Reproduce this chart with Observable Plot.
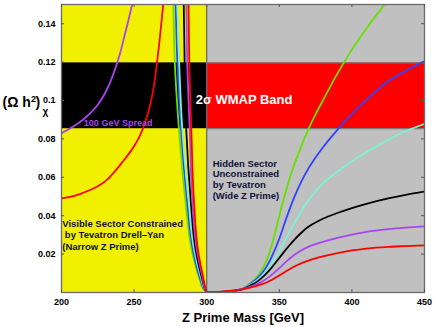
<!DOCTYPE html>
<html><head><meta charset="utf-8">
<script src="https://cdn.jsdelivr.net/npm/d3@7"></script>
<script src="https://cdn.jsdelivr.net/npm/@observablehq/plot@0.6"></script>
<style>body{margin:0;background:#fff} svg{display:block}</style>
</head><body><div id="chart"></div>
<script>
// ---- data ----
const xTicks = [200, 250, 300, 350, 400, 450];
const xTickLabels = ["200", "250", "300", "350", "400", "450"];
const yTicks = [0.02, 0.04, 0.06, 0.08, 0.1, 0.12, 0.14];
const yTickLabels = ["0.02", "0.04", "0.06", "0.08", "0.1", "0.12", "0.14"];
const massDomain = [200, 450];
const omegaDomain = [0, 0.15];
const sectorSplit = 300;
const wmapBand = [0.0853, 0.1196];

// steep branches just below the resonance (mass at given omega levels, ascending omega)
const steepOmega  = [0, 0.002, 0.006, 0.022, 0.048, 0.085, 0.12, 0.15, 0.16];
const greenSteep  = [300, 297.5, 295.5, 289.7, 285.3, 280.9, 278.0, 277.0, 276.7];
const blueSteep   = [300, 297.9, 296.0, 290.6, 286.5, 282.3, 279.8, 278.6, 278.2];
const cyanSteep   = [300, 298.2, 296.6, 291.4, 287.5, 283.2, 281.0, 279.8, 279.4];
const blackSteep  = [300, 298.6, 297.2, 292.4, 289.0, 285.9, 284.8, 284.2, 284.0];
const purpleSteep = [300, 298.8, 297.7, 293.3, 290.1, 288.3, 286.6, 286.0, 285.8];
const redSteep    = [300, 299.2, 298.1, 294.0, 291.2, 289.4, 288.0, 287.5, 287.3];

// wide arcs on the visible side
const purpleArcMass  = [200, 205, 210, 215, 220, 225, 229, 233, 237, 240.5, 243.5, 246, 248.5, 251];
const purpleArcOmega = [0.083, 0.0851, 0.0874, 0.0901, 0.0935, 0.0978, 0.1025, 0.1085, 0.1165, 0.125, 0.134, 0.1415, 0.1495, 0.158];
const redArcMass  = [200, 210, 220, 227, 232, 237.2, 243, 247.6, 251, 254.5, 258, 261, 263.5, 265.5, 267.5, 269, 270.3, 271.3];
const redArcOmega = [0.049, 0.0506, 0.0535, 0.0562, 0.0592, 0.0635, 0.069, 0.0735, 0.0775, 0.0825, 0.0895, 0.0975, 0.107, 0.118, 0.131, 0.142, 0.152, 0.16];

// hidden side (mass above 300)
const hiddenMass = [300, 310, 320, 325, 330, 335, 340, 345, 350, 355, 360, 365, 370, 375, 380, 390, 400, 410, 425, 437, 450];
const greenHidden  = [0, 0.0003, 0.0011, 0.0021, 0.0048, 0.0085, 0.0145, 0.0250, 0.0400, 0.0540, 0.0660, 0.0760, 0.0850, 0.0928, 0.1000, 0.1140, 0.1265, 0.1375, 0.1525, 0.1640, 0.1755];
const blueHidden   = [0, 0.0003, 0.0011, 0.0020, 0.0044, 0.0075, 0.0120, 0.0190, 0.0280, 0.0390, 0.0490, 0.0575, 0.0645, 0.0703, 0.0755, 0.0847, 0.0930, 0.1003, 0.1100, 0.1155, 0.1205];
const cyanHidden   = [0, 0.0003, 0.0011, 0.0019, 0.0040, 0.0066, 0.0104, 0.0155, 0.0215, 0.0286, 0.0356, 0.0422, 0.0480, 0.0527, 0.0567, 0.0630, 0.0684, 0.0731, 0.0795, 0.0840, 0.0878];
const blackHidden  = [0, 0.0003, 0.0010, 0.0018, 0.0036, 0.0058, 0.0090, 0.0132, 0.0180, 0.0228, 0.0272, 0.0310, 0.0342, 0.0365, 0.0384, 0.0414, 0.0440, 0.0462, 0.0490, 0.0509, 0.0526];
const purpleHidden = [0, 0.0003, 0.0010, 0.0017, 0.0030, 0.0045, 0.0065, 0.0093, 0.0127, 0.0162, 0.0194, 0.0219, 0.0238, 0.0252, 0.0264, 0.0285, 0.0302, 0.0316, 0.0330, 0.0338, 0.0345];
const redHidden    = [0, 0.0004, 0.0012, 0.0018, 0.0026, 0.0036, 0.0048, 0.0066, 0.0088, 0.0112, 0.0134, 0.0152, 0.0166, 0.0178, 0.0188, 0.0205, 0.0219, 0.0229, 0.0238, 0.0242, 0.0246];

// ---- styles ----
const colors = {green: "#66e000", blue: "#2b44ff", cyan: "#7df2d4", black: "#000000", purple: "#a845f0", red: "#ff0000"};
const FONT = "'Liberation Sans', Arial, Helvetica, sans-serif";

// ---- build tables ----
const rowsOf = (masses, omegas) => masses.map((m, i) => ({m, o: omegas[i]}));
const seriesDefs = [
  ["green", greenSteep, greenHidden, null],
  ["blue", blueSteep, blueHidden, null],
  ["cyan", cyanSteep, cyanHidden, null],
  ["black", blackSteep, blackHidden, null],
  ["purple", purpleSteep, purpleHidden, [purpleArcMass, purpleArcOmega]],
  ["red", redSteep, redHidden, [redArcMass, redArcOmega]]
];
const lineStyle = (key) => ({x: "m", y: "o", stroke: colors[key], strokeWidth: 1.8, clip: true});
const lineMarks = seriesDefs.flatMap(([key, steep, hidden, arc]) => {
  const marks = [
    Plot.line(rowsOf(steep, steepOmega), {...lineStyle(key), curve: "monotone-y"}),
    Plot.line(rowsOf(hiddenMass, hidden), {...lineStyle(key), curve: "monotone-x"})
  ];
  if (arc) marks.unshift(Plot.line(rowsOf(arc[0], arc[1]), {...lineStyle(key), curve: "monotone-x"}));
  return marks;
});

const regions = [
  {x1: massDomain[0], x2: sectorSplit, fill: "#f0f000", band: "#000000"},
  {x1: sectorSplit, x2: massDomain[1], fill: "#c0c0c0", band: "#ff0000"}
];
const frameW = 436 - 61 - 12, frameH = 327 - 4 - 35;
const bold = {fontWeight: "bold", fill: "black"};

const chart = Plot.plot({
  width: 436, height: 327,
  marginTop: 4, marginBottom: 35, marginLeft: 61, marginRight: 12,
  style: {fontFamily: FONT, background: "white", color: "black"},
  x: {domain: massDomain},
  y: {domain: omegaDomain},
  marks: [
    Plot.rect(regions, {x1: "x1", x2: "x2", y1: () => omegaDomain[0], y2: () => omegaDomain[1], fill: "fill"}),
    Plot.rect(regions, {x1: "x1", x2: "x2", y1: () => wmapBand[0], y2: () => wmapBand[1], fill: "band"}),
    Plot.ruleY(wmapBand, {x1: sectorSplit, x2: massDomain[1], stroke: "#7a7a7a", strokeWidth: 1.2}),
    Plot.ruleX([sectorSplit], {stroke: "#6a6a6a", strokeWidth: 1.3}),
    ...lineMarks,
    Plot.frame({stroke: "#6a6a6a", strokeWidth: 1.3}),
    // inward ticks
    Plot.tickX(xTicks, {x: d => d, insetTop: frameH - 3, stroke: "#555"}),
    Plot.tickX(xTicks, {x: d => d, insetBottom: frameH - 3, stroke: "#555"}),
    Plot.tickY(yTicks, {y: d => d, insetRight: frameW - 3, stroke: "#555"}),
    Plot.tickY(yTicks, {y: d => d, insetLeft: frameW - 3, stroke: "#555"}),
    Plot.axisX({ticks: xTicks, tickFormat: d => xTickLabels[xTicks.indexOf(d)], tickSize: 0, tickPadding: 6.5, fontSize: 9, fontWeight: "bold", label: null}),
    Plot.axisY({ticks: yTicks, tickFormat: d => yTickLabels[yTicks.indexOf(d)], tickSize: 0, tickPadding: 6, fontSize: 9, fontWeight: "bold", label: null}),
    Plot.text(["Z Prime Mass [GeV]"], {frameAnchor: "bottom", dy: 25.5, lineAnchor: "middle", fontSize: 13, ...bold}),
    // y label: (Ω h²)χ
    Plot.text(["(Ω h"], {frameAnchor: "top-left", dx: -59, dy: 98.2, textAnchor: "start", lineAnchor: "middle", fontSize: 14, ...bold}),
    Plot.text(["2"], {frameAnchor: "top-left", dx: -30.5, dy: 95.1, textAnchor: "start", lineAnchor: "middle", fontSize: 9, ...bold}),
    Plot.text([")"], {frameAnchor: "top-left", dx: -26, dy: 98.2, textAnchor: "start", lineAnchor: "middle", fontSize: 14, ...bold}),
    Plot.text(["χ"], {frameAnchor: "top-left", dx: -19, dy: 107.3, textAnchor: "start", lineAnchor: "middle", fontSize: 10, ...bold}),
    // annotations
    Plot.text(["2σ WMAP Band"], {x: () => 292.4, y: () => 0.1004, textAnchor: "start", lineAnchor: "middle", fontSize: 13, fontWeight: "bold", fill: "white"}),
    Plot.text(["100 GeV Spread"], {x: () => 215.4, y: () => 0.088, textAnchor: "start", lineAnchor: "middle", fontSize: 9, fontWeight: "bold", fill: "#a845f0"}),
    Plot.text(["Visible Sector Constrained\n\u00a0by Tevatron Drell\u2013Yan\n(Narrow Z Prime)"], {x: () => 200.5, y: () => 0.0384, textAnchor: "start", lineAnchor: "top", lineHeight: 1.2, fontSize: 9.5, fontWeight: "bold", fill: "#10103a"}),
    Plot.text(["Hidden Sector\nUnconstrained\nby Tevatron\n(Wide Z Prime)"], {x: () => 304.1, y: () => 0.0696, textAnchor: "start", lineAnchor: "top", lineHeight: 1.14, fontSize: 9.5, fontWeight: "bold", fill: "#10103a"})
  ]
});
document.getElementById("chart").appendChild(chart);
</script>
</body></html>
